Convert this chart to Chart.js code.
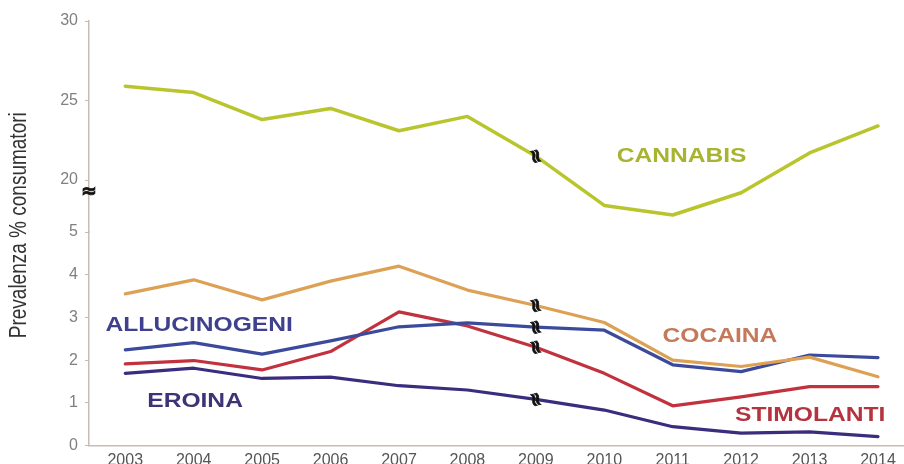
<!DOCTYPE html>
<html>
<head>
<meta charset="utf-8">
<script src="https://cdn.jsdelivr.net/npm/chart.js"></script>
<style>
  html, body { margin: 0; padding: 0; background: #fff; }
  #wrap { width: 904px; height: 464px; }
</style>
</head>
<body>
<div id="wrap"><canvas id="myChart" width="904" height="464"></canvas></div>
<script>
// dati
const years = [2003, 2004, 2005, 2006, 2007, 2008, 2009, 2010, 2011, 2012, 2013, 2014];
const cannabis     = [25.9, 25.5, 23.8, 24.5, 23.1, 24.0, 21.5, 18.4, 17.8, 19.2, 21.7, 23.4];
const cocaina      = [3.55, 3.88, 3.41, 3.85, 4.2, 3.64, 3.28, 2.88, 2.0, 1.85, 2.07, 1.61];
const allucinogeni = [2.24, 2.41, 2.14, 2.45, 2.78, 2.87, 2.77, 2.70, 1.89, 1.73, 2.12, 2.06];
const stimolanti   = [1.91, 1.99, 1.77, 2.2, 3.13, 2.8, 2.3, 1.69, 0.93, 1.14, 1.38, 1.38];
const eroina       = [1.69, 1.81, 1.57, 1.6, 1.4, 1.3, 1.08, 0.83, 0.44, 0.29, 0.32, 0.21];
const lowTicks = [0, 1, 2, 3, 4, 5];
const highTicks = [20, 25, 30];
const breakYear = 2009;

// etichette delle serie (posizione in unità dei dati)
const seriesLabels = [
  { text: 'CANNABIS',     x: 2011.13, y: 21.5, axis: 'yTop', color: '#a8b430' },
  { text: 'COCAINA',      x: 2011.69, y: 2.56, axis: 'y',    color: '#c47a5a' },
  { text: 'ALLUCINOGENI', x: 2004.08, y: 2.80, axis: 'y',    color: '#3f418f' },
  { text: 'EROINA',       x: 2004.02, y: 1.03, axis: 'y',    color: '#3d3477' },
  { text: 'STIMOLANTI',   x: 2013.01, y: 0.71, axis: 'y',    color: '#b3343f' }
];

const stretchX = 1.23;

const decorations = {
  id: 'decorations',
  afterDatasetsDraw(chart) {
    const ctx = chart.ctx;
    const xs = chart.scales.x;
    const area = chart.chartArea;
    ctx.save();

    // etichette serie
    ctx.font = 'bold 20px "Liberation Sans", Arial, sans-serif';
    ctx.textAlign = 'center';
    ctx.textBaseline = 'middle';
    seriesLabels.forEach(l => {
      ctx.save();
      ctx.fillStyle = l.color;
      ctx.translate(xs.getPixelForValue(l.x), chart.scales[l.axis].getPixelForValue(l.y));
      ctx.scale(stretchX, 1);
      ctx.fillText(l.text, 0, 0);
      ctx.restore();
    });

    // segni di interruzione sulle linee
    ctx.font = 'bold 19px "DejaVu Sans", sans-serif';
    ctx.fillStyle = '#111';
    ctx.strokeStyle = '#111';
    ctx.lineWidth = 0.8;
    const idx = years.indexOf(breakYear);
    chart.data.datasets.forEach((ds, i) => {
      const pt = chart.getDatasetMeta(i).data[idx];
      ctx.save();
      ctx.translate(pt.x, pt.y);
      ctx.rotate(Math.PI / 2 - 0.25);
      ctx.fillText('\u2248', 0, 1);
      ctx.strokeText('\u2248', 0, 1);
      ctx.restore();
    });

    // interruzione asse y
    const by = chart.scales.yTop.getPixelForValue(19.25);
    ctx.fillText('\u2248', area.left, by);
    ctx.strokeText('\u2248', area.left, by);

    // titolo asse y
    ctx.save();
    ctx.font = '19px "Liberation Sans", Arial, sans-serif';
    ctx.fillStyle = '#333';
    ctx.translate(20, (area.top + area.bottom) / 2 - 8);
    ctx.scale(stretchX, 1);
    ctx.rotate(-Math.PI / 2);
    ctx.fillText('Prevalenza % consumatori', 0, 0);
    ctx.restore();

    ctx.restore();
  }
};

function line(label, data, color, axis, width) {
  return {
    label: label,
    data: data,
    yAxisID: axis,
    borderColor: color,
    backgroundColor: color,
    borderWidth: width,
    pointRadius: 0,
    tension: 0,
    fill: false,
    borderCapStyle: 'round',
    borderJoinStyle: 'round'
  };
}

const axisColor = '#c9bcb6';

let ctx = document.getElementById('myChart').getContext('2d');
let myLineChart = new Chart(ctx, {
  type: 'line',
  data: {
    labels: years,
    datasets: [
      line('Cannabis', cannabis, '#b9c52c', 'yTop', 3.5),
      line('Cocaina', cocaina, '#dda156', 'y', 3.2),
      line('Allucinogeni', allucinogeni, '#3c4a9c', 'y', 3.2),
      line('Stimolanti', stimolanti, '#c2323e', 'y', 3.2),
      line('Eroina', eroina, '#3b2c7e', 'y', 3.2)
    ]
  },
  options: {
    responsive: false,
    animation: false,
    layout: { padding: { top: 21, left: 0, right: 0, bottom: 0 } },
    plugins: {
      legend: { display: false },
      tooltip: { enabled: false }
    },
    scales: {
      x: {
        type: 'linear',
        min: 2002.47,
        max: 2014.38,
        afterBuildTicks: s => { s.ticks = years.map(v => ({ value: v })); },
        afterFit: s => { s.height = 18.5; },
        grid: { display: false, drawTicks: false },
        border: { display: true, color: axisColor, width: 1.5 },
        ticks: {
          padding: 5,
          maxRotation: 0,
          autoSkip: false,
          color: '#555',
          font: { family: '"Liberation Sans", Arial, sans-serif', size: 16 },
          callback: v => String(v)
        }
      },
      y: {
        type: 'linear',
        position: 'left',
        stack: 'asse',
        stackWeight: 213.5,
        min: 0,
        max: 5,
        afterBuildTicks: s => { s.ticks = lowTicks.map(v => ({ value: v })); },
        afterFit: s => { s.width = 89; },
        grid: { display: true, drawOnChartArea: false, drawTicks: true, tickLength: 4, color: axisColor },
        border: { display: true, color: axisColor, width: 1.5 },
        ticks: {
          padding: 7,
          color: '#808080',
          font: { family: '"Liberation Sans", Arial, sans-serif', size: 16 }
        }
      },
      yTop: {
        type: 'linear',
        position: 'left',
        stack: 'asse',
        stackWeight: 211,
        min: 16.73,
        max: 30,
        afterBuildTicks: s => { s.ticks = highTicks.map(v => ({ value: v })); },
        afterFit: s => { s.width = 89; },
        grid: { display: true, drawOnChartArea: false, drawTicks: true, tickLength: 4, color: axisColor },
        border: { display: true, color: axisColor, width: 1.5 },
        ticks: {
          padding: 7,
          color: '#808080',
          font: { family: '"Liberation Sans", Arial, sans-serif', size: 16 }
        }
      }
    }
  },
  plugins: [decorations]
});
</script>
</body>
</html>
